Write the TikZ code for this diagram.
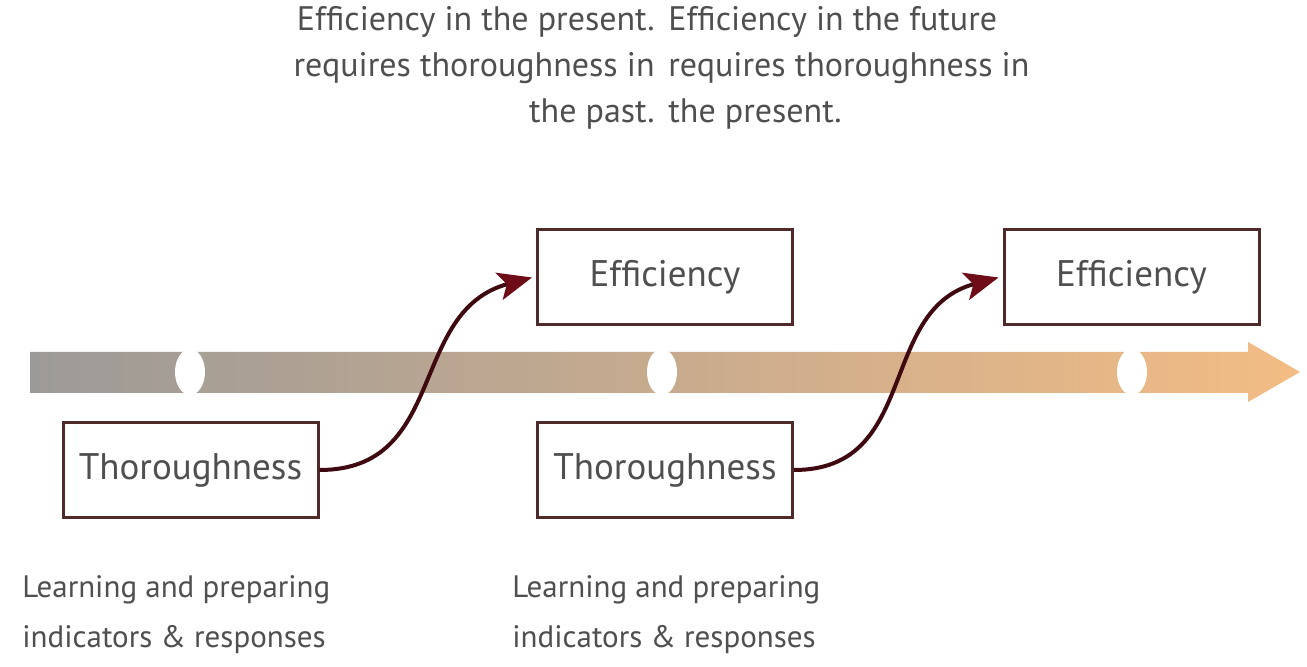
\documentclass[tikz,border=0pt]{standalone}
\usepackage{fontspec}
\setmainfont{PT Sans}
\usetikzlibrary{shapes.geometric,arrows.meta}
\definecolor{boxline}{HTML}{4E2A2A}
\definecolor{flowline}{HTML}{3E0A10}
\definecolor{flowhead}{HTML}{6E0D17}
\definecolor{txt}{HTML}{4F4F4F}
\definecolor{bandgray}{HTML}{9C9A98}
\definecolor{bandtan}{HTML}{C2A98E}
\definecolor{bandorange}{HTML}{F3BC84}
\begin{document}
\begin{tikzpicture}[x=0.5pt,y=-0.5pt,
  stagebox/.style={draw=boxline, line width=1.5pt, fill=white,
    minimum width=127.5pt, minimum height=47.5pt, inner sep=0pt,
    text=txt, font=\fontsize{18.5}{22}\selectfont},
  note/.style={text=txt, inner sep=0pt, font=\fontsize{17}{23}\selectfont},
  lownote/.style={text=txt, inner sep=0pt, font=\fontsize{15.5}{25}\selectfont},
  gap/.style={ellipse, fill=white, draw=none, minimum width=15pt, minimum height=23pt, inner sep=0pt},
  flow/.style={draw=flowline, line width=2pt,
    -{Stealth[length=17pt, width=14pt, inset=4pt, fill=flowhead, color=flowhead]}}]
  \useasboundingbox (0,0) rectangle (1307,667);
  \fill[white] (0,0) rectangle (1307,667);

  % timeline band with arrow head
  \shade[left color=bandgray, middle color=bandtan, right color=bandorange]
    (30,352) -- (1248,352) -- (1248,342) -- (1300,372) -- (1248,402)
    -- (1248,393) -- (30,393) -- cycle;

  % white breaks along the band
  \node[gap] (g1) at (190,372) {};
  \node[gap] (g2) at (662,372) {};
  \node[gap] (g3) at (1132,372) {};

  % stages
  \node[stagebox] (t1) at (190.5,470) {Thoroughness};
  \node[stagebox] (e1) at (665,277.5) {Efficiency};
  \node[stagebox] (t2) at (665,470) {Thoroughness};
  \node[stagebox] (e2) at (1131.5,277.5) {Efficiency};

  % thoroughness leads to efficiency
  \draw[flow] (t1.east) to[out=0, in=195, looseness=1.15] ([xshift=-2pt]e1.west);
  \draw[flow] (t2.east) to[out=0, in=195, looseness=1.15] ([xshift=-2pt]e2.west);

  % captions above
  \node[note, anchor=east, align=right] (c1) at (655,68)
    {Efficiency in the present.\\requires thoroughness in\\the past.};
  \node[note, anchor=west, align=left] (c2) at (668,68)
    {Efficiency in the future\\requires thoroughness in\\the present.};

  % captions below
  \node[lownote, anchor=west, align=left] (b1) at (22,615)
    {Learning and preparing\\indicators \& responses};
  \node[lownote, anchor=west, align=left] (b2) at (512,615)
    {Learning and preparing\\indicators \& responses};
\end{tikzpicture}
\end{document}
